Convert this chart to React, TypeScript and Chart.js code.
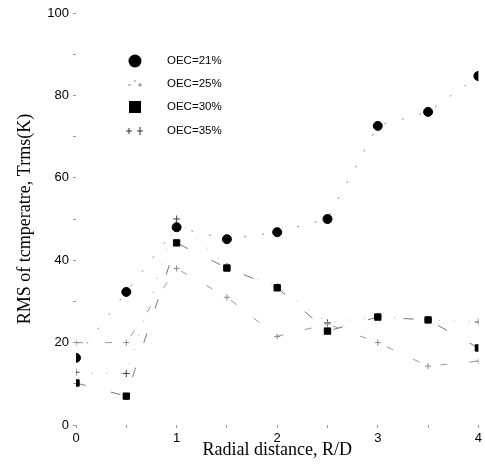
import React, { useEffect, useRef } from "react";
import { Chart, registerables } from "chart.js";

Chart.register(...registerables);

// Radial distance R/D
const xValues = [0, 0.5, 1, 1.5, 2, 2.5, 3, 3.5, 4];
// RMS of temperature (K) for each OEC
const oec21 = [16.3, 32.3, 48, 45.1, 46.8, 50, 72.6, 76, 84.7];
const oec25 = [20, 20, 38, 31, 21.5, 24.5, 20, 14.3, 15.5];
const oec30 = [10.2, 7, 44.2, 38.1, 33.3, 22.8, 26.2, 25.5, 18.7];
const oec35 = [12.8, 12.5, 50, 38.5, 33.5, 24.8, 26.3, 25.5, 25];

const seriesNames = ["OEC=21%", "OEC=25%", "OEC=30%", "OEC=35%"];
const xTitle = "Radial distance, R/D";
const yTitle = "RMS of tcmperatre, Trms(K)";

const toPoints = (ys: number[]) => xValues.map((x, i) => ({ x, y: ys[i] }));

const legendPlugin = {
  id: "innerLegend",
  afterDraw(chart: any) {
    const ctx = chart.ctx;
    const rows = [61, 84, 107, 131];
    const mx = 135;
    const tx = 167;
    ctx.save();
    ctx.font = "11.5px 'Liberation Sans', Arial, sans-serif";
    ctx.textBaseline = "middle";
    ctx.fillStyle = "#000";
    rows.forEach((y, i) => {
      ctx.fillStyle = "#000";
      ctx.fillText(seriesNames[i], tx, y);
      if (i === 0) {
        ctx.beginPath();
        ctx.arc(mx, y, 6.5, 0, Math.PI * 2);
        ctx.fill();
      } else if (i === 1) {
        ctx.strokeStyle = "#888";
        ctx.lineWidth = 1;
        ctx.beginPath();
        ctx.moveTo(128, y + 1);
        ctx.lineTo(131, y + 1);
        ctx.moveTo(134, y - 3);
        ctx.lineTo(136, y - 3);
        ctx.moveTo(138, y + 1);
        ctx.lineTo(142, y + 1);
        ctx.moveTo(140, y - 1);
        ctx.lineTo(140, y + 3);
        ctx.stroke();
      } else if (i === 2) {
        ctx.fillRect(mx - 6, y - 6, 12, 12);
      } else {
        ctx.strokeStyle = "#333";
        ctx.lineWidth = 1;
        ctx.beginPath();
        ctx.moveTo(126, y);
        ctx.lineTo(132, y);
        ctx.moveTo(129, y - 3);
        ctx.lineTo(129, y + 3);
        ctx.moveTo(137, y);
        ctx.lineTo(143, y);
        ctx.moveTo(140, y - 4);
        ctx.lineTo(140, y + 4);
        ctx.stroke();
      }
    });
    ctx.restore();
  },
};

export default function App() {
  const ref = useRef<HTMLCanvasElement | null>(null);

  useEffect(() => {
    if (!ref.current) return;
    const tickFont = { family: "'Liberation Sans', Arial, sans-serif", size: 13 };
    const titleFont = { family: "'Liberation Serif', 'Times New Roman', serif", size: 18 };
    const chart = new Chart(ref.current, {
      type: "scatter",
      data: {
        datasets: [
          {
            label: seriesNames[0],
            data: toPoints(oec21),
            showLine: true,
            borderColor: "#888",
            borderWidth: 1,
            borderDash: [2, 16],
            pointStyle: "circle",
            pointRadius: 4.5,
            pointBackgroundColor: "#000",
            pointBorderColor: "#000",
          },
          {
            label: seriesNames[1],
            data: toPoints(oec25),
            showLine: true,
            borderColor: "#999",
            borderWidth: 1,
            borderDash: [7, 22],
            pointStyle: "cross",
            pointRadius: 3,
            pointBorderColor: "#888",
            pointBorderWidth: 1,
          },
          {
            label: seriesNames[2],
            data: toPoints(oec30),
            showLine: true,
            borderColor: "#777",
            borderWidth: 1,
            borderDash: [10, 26],
            pointStyle: "rect",
            pointRadius: 4.5,
            pointBackgroundColor: "#000",
            pointBorderColor: "#000",
          },
          {
            label: seriesNames[3],
            data: toPoints(oec35),
            showLine: true,
            borderColor: "#aaa",
            borderWidth: 1,
            borderDash: [1, 14],
            pointStyle: "cross",
            pointRadius: 3.5,
            pointBorderColor: "#444",
            pointBorderWidth: 1,
          },
        ],
      },
      options: {
        animation: false,
        responsive: true,
        maintainAspectRatio: false,
        layout: { padding: { top: 13, right: 4, left: 0, bottom: 0 } },
        plugins: { legend: { display: false }, tooltip: { enabled: false } },
        scales: {
          x: {
            type: "linear",
            min: 0,
            max: 4,
            border: { display: false },
            grid: { drawOnChartArea: false, drawTicks: true, tickLength: 3, color: "#999" },
            ticks: {
              stepSize: 0.5,
              padding: 3,
              color: "#000",
              font: tickFont,
              maxRotation: 0,
              callback: (v: any) => (Number(v) % 1 === 0 ? String(v) : ""),
            },
            title: { display: true, text: xTitle, color: "#000", font: titleFont, padding: { top: 0, bottom: 7 } },
            afterFit: (s: any) => {
              s.height = 43;
            },
          },
          y: {
            type: "linear",
            min: 0,
            max: 100,
            border: { display: false },
            grid: { drawOnChartArea: false, drawTicks: true, tickLength: 3, color: "#999" },
            ticks: {
              stepSize: 10,
              padding: 4,
              color: "#000",
              font: tickFont,
              callback: (v: any) => (Number(v) % 20 === 0 ? String(v) : ""),
            },
            title: { display: true, text: yTitle, color: "#000", font: titleFont, padding: { top: 14, bottom: 0 } },
            afterFit: (s: any) => {
              s.width = 76;
            },
          },
        },
      },
      plugins: [legendPlugin],
    });
    return () => chart.destroy();
  }, []);

  return (
    <div style={{ position: "fixed", left: 0, top: 0, width: 485, height: 468, background: "#fff" }}>
      <canvas ref={ref} />
    </div>
  );
}
